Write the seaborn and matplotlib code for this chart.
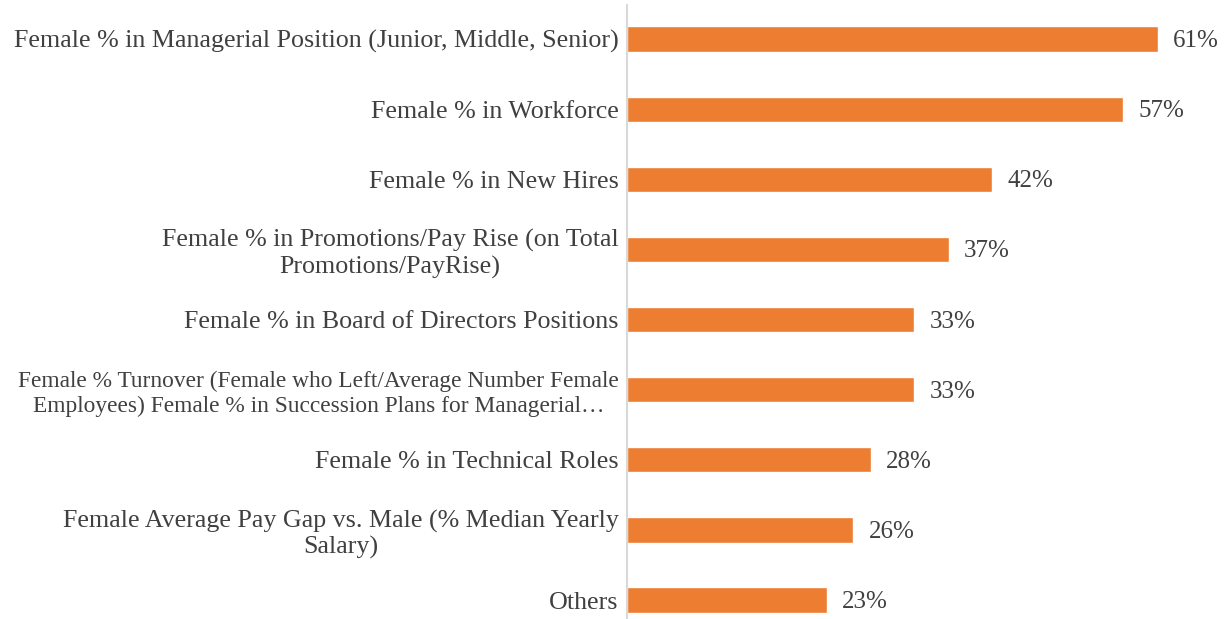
import matplotlib
matplotlib.use("Agg")
import matplotlib.pyplot as plt
import seaborn as sns
import pandas as pd

categories = [
    "Female % in Managerial Position (Junior, Middle, Senior)",
    "Female % in Workforce",
    "Female % in New Hires",
    "Female % in Promotions/Pay Rise (on Total\nPromotions/PayRise)",
    "Female % in Board of Directors Positions",
    "Female % Turnover (Female who Left/Average Number Female\nEmployees) Female % in Succession Plans for Managerial\u2026",
    "Female % in Technical Roles",
    "Female Average Pay Gap vs. Male (% Median Yearly\nSalary)",
    "Others",
]
values = [61, 57, 42, 37, 33, 33, 28, 26, 23]
value_labels = ["61%", "57%", "42%", "37%", "33%", "33%", "28%", "26%", "23%"]

sns.set_theme(style="white")
plt.rcParams["font.family"] = ["Liberation Serif", "DejaVu Serif"]

df = pd.DataFrame({"cat": categories, "val": values})

fig = plt.figure(figsize=(12.27, 6.19), dpi=100)
ax = fig.add_axes([627 / 1227, 0.0, 574 / 1227, 614 / 619])

sns.barplot(data=df, y="cat", x="val", color="#ED7D31", width=0.36,
            saturation=1, ax=ax, orient="h")

ax.set_xlim(0, 66)
ax.set_ylim(8.27, -0.485)
ax.set_xlabel("")
ax.set_ylabel("")
ax.set_xticks([])
for s in ["top", "right", "bottom"]:
    ax.spines[s].set_visible(False)
ax.spines["left"].set_color("#D9D9D9")
ax.spines["left"].set_linewidth(1.5)

ax.tick_params(axis="y", length=0, pad=6)
for lbl in ax.get_yticklabels():
    lbl.set_fontsize(18.7)
    lbl.set_color("#404040")
    lbl.set_multialignment("center")
    lbl.set_linespacing(1.2)
# smaller font for long turnover label
ax.get_yticklabels()[5].set_fontsize(16.8)

for i, (v, t) in enumerate(zip(values, value_labels)):
    ax.annotate(t, xy=(v, i), xytext=(11, -1.5), textcoords="offset points",
                va="center", ha="left", fontsize=18, color="#404040")

fig.savefig("out.png", dpi=100)
